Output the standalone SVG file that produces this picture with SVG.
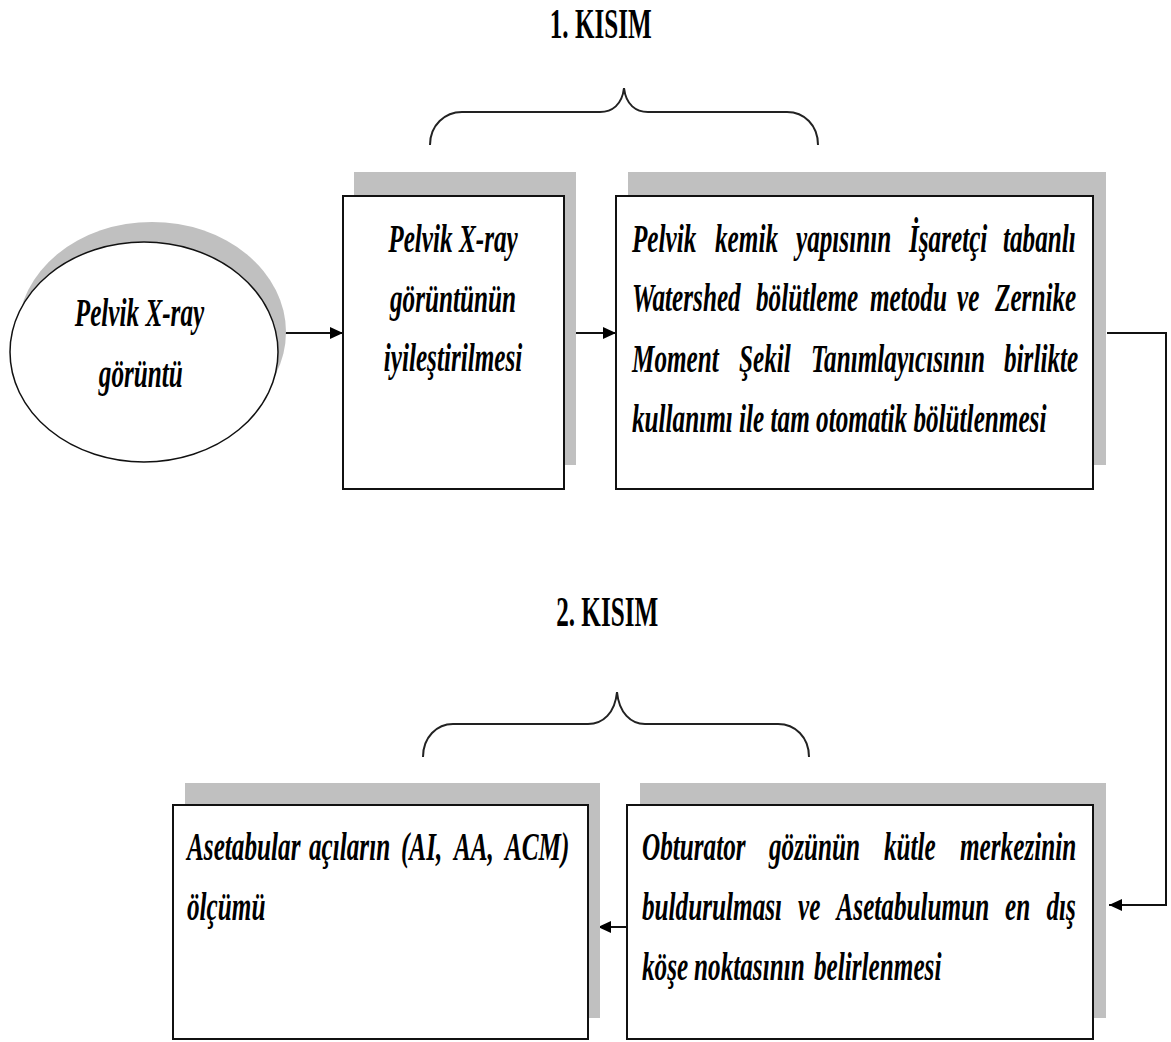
<svg xmlns="http://www.w3.org/2000/svg" width="1171" height="1042" viewBox="0 0 1171 1042">
<style>
.t{font-family:"Liberation Serif","Times New Roman",serif;font-weight:bold;font-style:italic;font-size:41px;fill:#000}
.h{font-family:"Liberation Serif","Times New Roman",serif;font-weight:bold;font-size:43px;fill:#000}
.box{fill:#fff;stroke:#111;stroke-width:2}
.sh{fill:#c0c0c0}
.br{fill:none;stroke:#222;stroke-width:2}
.ln{fill:none;stroke:#111;stroke-width:2}
</style>
<defs>
<marker id="ah" markerUnits="userSpaceOnUse" markerWidth="14" markerHeight="12" refX="13" refY="6" orient="auto">
<path d="M0,0 L13,6 L0,12 z" fill="#000"/>
</marker>
</defs>
<rect width="1171" height="1042" fill="#fff"/>

<g id="title1">
<text class="h" transform="scale(0.585,1)" x="1027" y="38" text-anchor="middle">1. KISIM</text>
<path class="br" d="M430,145 C430,125 445,112 462,112 L600,112 C612,112 622,105 624,88 C626,105 636,112 648,112 L787,112 C804,112 818,125 818,145"/>
</g>

<g id="title2">
<text class="h" transform="scale(0.585,1)" x="1038" y="626" text-anchor="middle">2. KISIM</text>
<path class="br" d="M423,757 C423,737 437,724 453,724 L588,724 C603,724 615,713 617,692 C619,713 631,724 645,724 L778,724 C795,724 809,737 809,757"/>
</g>

<g id="connectors">
<line class="ln" x1="283" y1="333" x2="343" y2="333" marker-end="url(#ah)"/>
<line class="ln" x1="575" y1="333" x2="616" y2="333" marker-end="url(#ah)"/>
<polyline class="ln" points="1107,333 1166,333 1166,905 1109,905" marker-end="url(#ah)"/>
<line class="ln" x1="627" y1="927" x2="598" y2="927" marker-end="url(#ah)"/>
</g>

<g id="n0">
<ellipse class="sh" cx="152" cy="332" rx="134" ry="110"/>
<ellipse cx="144" cy="352" rx="134" ry="110" fill="#fff" stroke="#111" stroke-width="1.5"/>
<text class="t" transform="scale(0.615,1)" text-anchor="middle"><tspan x="226.8" y="326">Pelvik X-ray</tspan><tspan x="229" y="387">görüntü</tspan></text>
</g>

<g id="n1">
<rect class="sh" x="354" y="172" width="222" height="293"/>
<rect class="box" x="343" y="196" width="221" height="293"/>
<text class="t" transform="scale(0.615,1)" text-anchor="middle"><tspan x="736.6" y="252">Pelvik X-ray</tspan><tspan x="736.6" y="312">görüntünün</tspan><tspan x="736.6" y="371">iyileştirilmesi</tspan></text>
</g>

<g id="n2">
<rect class="sh" x="628" y="172" width="478" height="293"/>
<rect class="box" x="616" y="196" width="477" height="293"/>
<text class="t" transform="scale(0.615,1)"><tspan x="1027.6" y="252">Pelvik</tspan><tspan x="1162.6" y="252">kemik</tspan><tspan x="1294.3" y="252">yapısının</tspan><tspan x="1478" y="252">İşaretçi</tspan><tspan x="1630.9" y="252">tabanlı</tspan></text>
<text class="t" transform="scale(0.615,1)"><tspan x="1027.6" y="311">Watershed</tspan><tspan x="1229.3" y="311">bölütleme</tspan><tspan x="1414.6" y="311">metodu</tspan><tspan x="1556.1" y="311">ve</tspan><tspan x="1617.9" y="311">Zernike</tspan></text>
<text class="t" transform="scale(0.615,1)"><tspan x="1027.6" y="372">Moment</tspan><tspan x="1201.6" y="372">Şekil</tspan><tspan x="1318.7" y="372">Tanımlayıcısının</tspan><tspan x="1632.5" y="372">birlikte</tspan></text>
<text class="t" transform="scale(0.615,1)" x="1027.6" y="432">kullanımı ile tam otomatik bölütlenmesi</text>
</g>

<g id="n3">
<rect class="sh" x="185" y="783" width="415" height="235"/>
<rect class="box" x="173" y="805" width="415" height="234"/>
<text class="t" transform="scale(0.615,1)"><tspan x="304.1" y="860">Asetabular</tspan><tspan x="502.4" y="860">açıların</tspan><tspan x="652" y="860">(AI,</tspan><tspan x="738.2" y="860">AA,</tspan><tspan x="821.1" y="860">ACM)</tspan></text>
<text class="t" transform="scale(0.615,1)" x="304.1" y="920">ölçümü</text>
</g>

<g id="n4">
<rect class="sh" x="640" y="783" width="466" height="235"/>
<rect class="box" x="627" y="805" width="466" height="234"/>
<text class="t" transform="scale(0.615,1)"><tspan x="1043.9" y="860">Obturator</tspan><tspan x="1250.4" y="860">gözünün</tspan><tspan x="1437.4" y="860">kütle</tspan><tspan x="1561" y="860">merkezinin</tspan></text>
<text class="t" transform="scale(0.615,1)"><tspan x="1043.9" y="920">buldurulması</tspan><tspan x="1297.6" y="920">ve</tspan><tspan x="1360.2" y="920">Asetabulumun</tspan><tspan x="1634.1" y="920">en</tspan><tspan x="1701.6" y="920">dış</tspan></text>
<text class="t" transform="scale(0.615,1)"><tspan x="1043.9" y="980">köşe</tspan><tspan x="1128.5" y="980">noktasının</tspan><tspan x="1323.6" y="980">belirlenmesi</tspan></text>
</g>
</svg>
